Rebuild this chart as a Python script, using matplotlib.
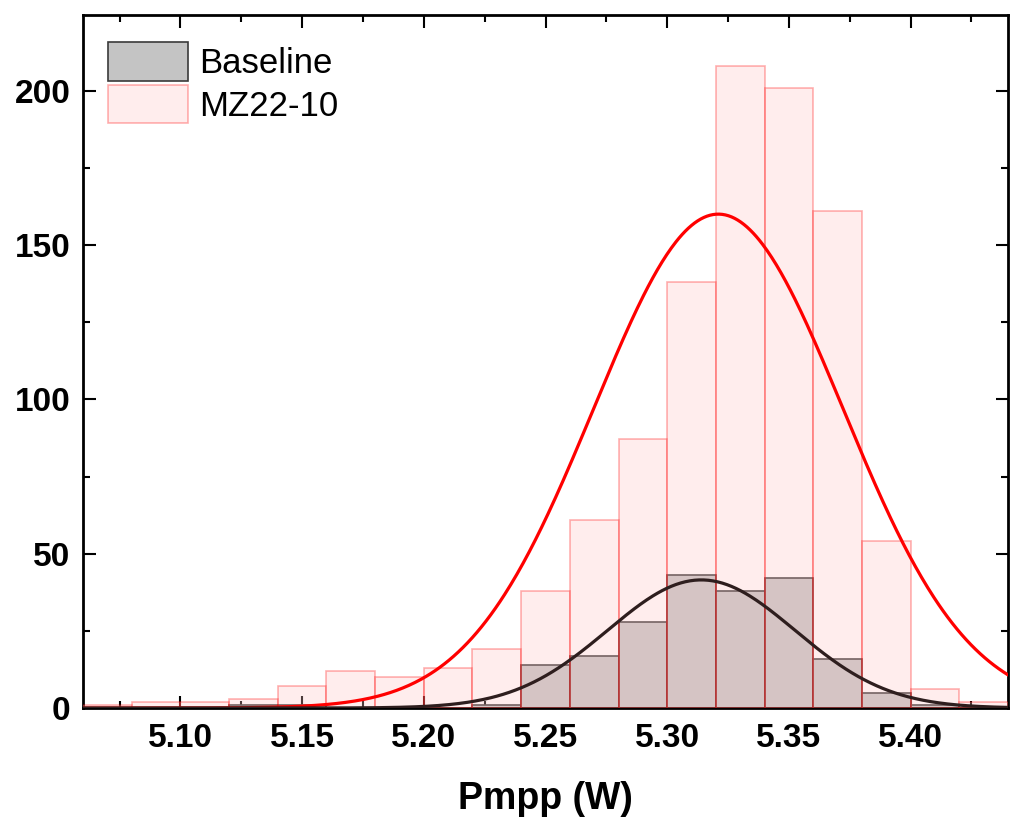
import numpy as np
import matplotlib
matplotlib.use("Agg")
import matplotlib.pyplot as plt

plt.rcParams['font.family'] = ['Liberation Sans', 'DejaVu Sans']

bin_edges = [5.06, 5.08, 5.10, 5.12, 5.14, 5.16, 5.18, 5.20, 5.22, 5.24, 5.26,
             5.28, 5.30, 5.32, 5.34, 5.36, 5.38, 5.40, 5.42, 5.44]
mz_counts = [1, 2, 2, 3, 7, 12, 10, 13, 19, 38, 61, 87, 138, 208, 201, 161, 54, 6, 2]
base_counts = [0, 0, 0, 1, 1, 0, 0, 0, 1, 14, 17, 28, 43, 38, 42, 16, 5, 1, 0]

# Gaussian fit parameters (mean, sigma, peak height)
mz_fit = (5.321, 0.0512, 160.0)
base_fit = (5.314, 0.0385, 41.5)

xticks = [5.10, 5.15, 5.20, 5.25, 5.30, 5.35, 5.40]
yticks = [0, 50, 100, 150, 200]

fig = plt.figure(figsize=(10.1, 8.17), dpi=100)
ax = fig.add_axes([0.0822, 0.1334, 0.9158, 0.8482])

edges = np.array(bin_edges)
widths = np.diff(edges)
ax.bar(edges[:-1], base_counts, width=widths, align='edge',
       facecolor='#C4C4C4', edgecolor='#3A3A3A', linewidth=1.2, label='Baseline', zorder=2)
ax.bar(edges[:-1], mz_counts, width=widths, align='edge',
       facecolor=(1.0, 0.77, 0.77, 0.3), edgecolor=(1.0, 0.0, 0.0, 0.3), linewidth=1.2,
       label='MZ22-10', zorder=3)

xx = np.linspace(5.06, 5.44, 600)
for (mu, sd, amp), col in [(mz_fit, '#FF0000'), (base_fit, '#2E1E1E')]:
    ax.plot(xx, amp * np.exp(-0.5 * ((xx - mu) / sd) ** 2), color=col, lw=2.3, zorder=4)

ax.set_xlim(5.06, 5.44)
ax.set_ylim(0, 224.5)
ax.set_xticks(xticks)
ax.set_xticklabels([f"{v:.2f}" for v in xticks])
ax.set_yticks(yticks)
ax.set_xticks(np.arange(5.075, 5.44, 0.025), minor=True)
ax.set_yticks(np.arange(25, 225, 25), minor=True)
ax.tick_params(which='both', direction='in', top=True, right=True, width=1.5)
ax.tick_params(which='major', length=9, labelsize=24)
ax.tick_params(axis='x', which='major', pad=11)
ax.tick_params(axis='y', which='major', pad=9)
ax.tick_params(which='minor', length=5)
for lab in ax.get_xticklabels() + ax.get_yticklabels():
    lab.set_fontweight('bold')
for s in ax.spines.values():
    s.set_linewidth(2)
ax.set_xlabel('Pmpp (W)', fontsize=27, fontweight='bold', labelpad=19)

leg = ax.legend(loc='upper left', frameon=False, fontsize=25, handlelength=2.3,
                handleheight=1.33, handletextpad=0.33, labelspacing=0.12,
                bbox_to_anchor=(0.012, 0.981), borderaxespad=0.0)

fig.savefig('out.png', dpi=100)
